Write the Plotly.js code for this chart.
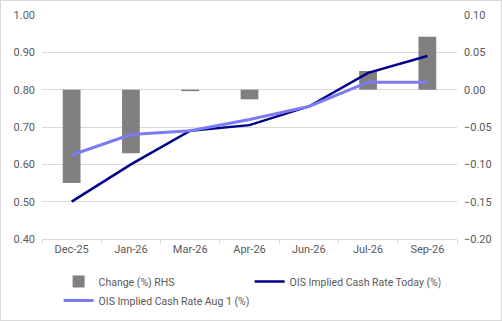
<!DOCTYPE html>
<html>
<head>
<meta charset="utf-8">
<script src="https://cdn.plot.ly/plotly-3.0.1.min.js"></script>
<style>
html,body{margin:0;padding:0;background:#fff;}
#chart{width:500px;height:319px;border:1px solid #d9d9d9;}
</style>
</head>
<body>
<div id="chart"></div>
<script>
const categories = ["Dec-25","Jan-26","Mar-26","Apr-26","Jun-26","Jul-26","Sep-26"];
const changeRHS = [-0.125, -0.085, -0.002, -0.013, 0.0, 0.025, 0.071];
const oisToday = [0.50, 0.60, 0.69, 0.705, 0.755, 0.845, 0.89];
const oisAug1 = [0.625, 0.68, 0.69, 0.72, 0.755, 0.82, 0.82];
const leftTicks = [0.4,0.5,0.6,0.7,0.8,0.9,1.0];
const rightTicks = [-0.2,-0.15,-0.1,-0.05,0,0.05,0.1];

const font = {family: "Roboto, 'Noto Sans', sans-serif", size: 11, color: "#595959"};
const legendFont = {family: "Roboto, 'Noto Sans', sans-serif", size: 10.5, color: "#595959"};

const traces = [
  {type:"bar", name:"Change (%) RHS", x:categories, y:changeRHS, yaxis:"y",
   marker:{color:"#808080", line:{width:0}}, width:0.3},
  {type:"scatter", mode:"lines", name:"OIS Implied Cash Rate Today (%)", x:categories, y:oisToday,
   yaxis:"y2", line:{color:"#00008b", width:2.5}},
  {type:"scatter", mode:"lines", name:"OIS Implied Cash Rate Aug 1 (%)", x:categories, y:oisAug1,
   yaxis:"y2", line:{color:"#7b7bf2", width:3}}
];

const layout = {
  width:500, height:319,
  margin:{l:41, r:44, t:14, b:81, autoexpand:false},
  paper_bgcolor:"#fff", plot_bgcolor:"#fff",
  font: font,
  showlegend:true,
  xaxis:{type:"category", tickson:"boundaries", ticks:"outside", ticklen:4, tickcolor:"#d9d9d9",
         showline:true, linecolor:"#d9d9d9", showgrid:false, tickfont:font, fixedrange:true},
  yaxis:{side:"right", range:[-0.2,0.1], tickvals:rightTicks, tickformat:".2f",
         showgrid:true, gridcolor:"#d9d9d9", zeroline:false, ticks:"", tickfont:font, ticklabelstandoff:6},
  yaxis2:{side:"left", overlaying:"y", range:[0.4,1.0], tickvals:leftTicks, tickformat:".2f",
          showgrid:false, zeroline:false, ticks:"", tickfont:font, ticklabelstandoff:6},
  legend:{orientation:"h", x:0.04, xanchor:"left", y:-0.125, yanchor:"top",
          entrywidth:146, entrywidthmode:"pixels", font:legendFont, tracegroupgap:0, itemwidth:30}
};

Plotly.newPlot("chart", traces, layout, {displayModeBar:false, staticPlot:true});
</script>
</body>
</html>
